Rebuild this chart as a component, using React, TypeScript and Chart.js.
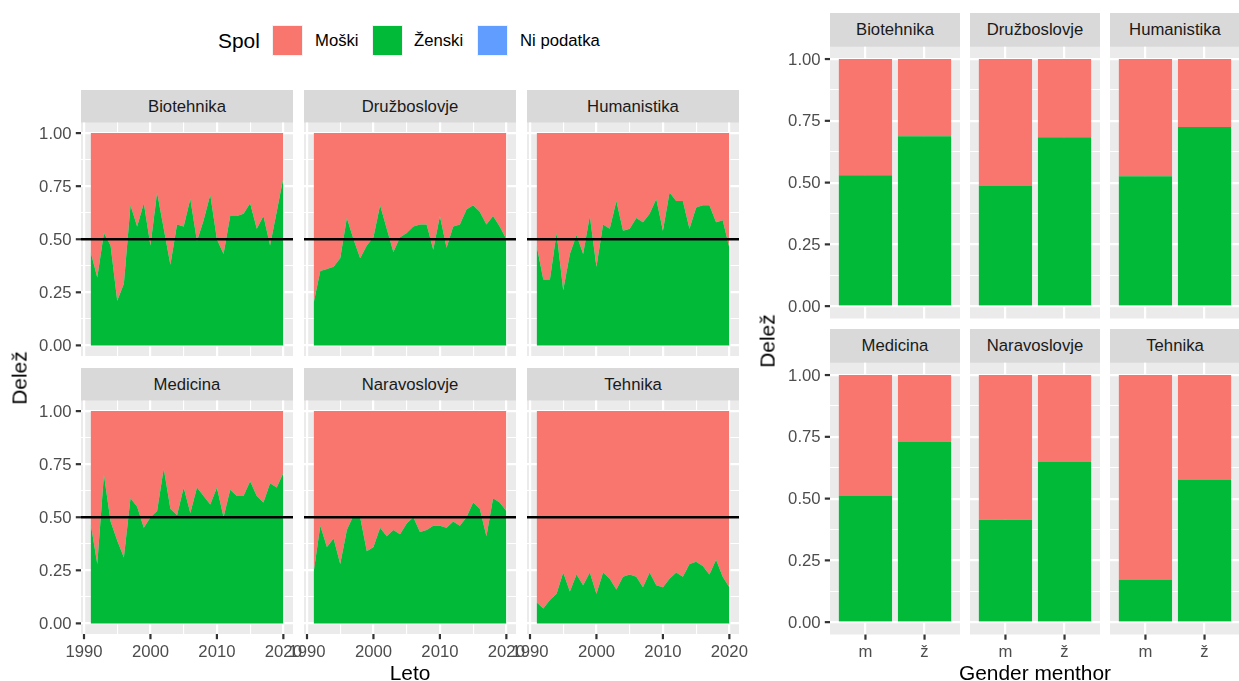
import React, { useEffect, useRef } from "react";
import Chart from "chart.js/auto";

// ---------- data ----------
const YEARS = [
  1991, 1992, 1993, 1994, 1995, 1996, 1997, 1998, 1999, 2000,
  2001, 2002, 2003, 2004, 2005, 2006, 2007, 2008, 2009, 2010,
  2011, 2012, 2013, 2014, 2015, 2016, 2017, 2018, 2019, 2020,
];

const FIELDS = ["Biotehnika", "Družboslovje", "Humanistika", "Medicina", "Naravoslovje", "Tehnika"];

// share of female graduates per year (Ženski); the rest up to 1 is Moški
const WOMEN_BIO = [0.44, 0.32, 0.53, 0.47, 0.21, 0.29, 0.66, 0.56, 0.67, 0.47, 0.72, 0.55, 0.38, 0.57, 0.56, 0.69, 0.49, 0.59, 0.71, 0.50, 0.43, 0.61, 0.61, 0.62, 0.67, 0.55, 0.61, 0.47, 0.63, 0.79];
const WOMEN_DRU = [0.20, 0.35, 0.36, 0.37, 0.41, 0.60, 0.50, 0.41, 0.47, 0.51, 0.66, 0.55, 0.44, 0.51, 0.53, 0.56, 0.57, 0.57, 0.45, 0.61, 0.46, 0.56, 0.57, 0.64, 0.66, 0.63, 0.57, 0.61, 0.56, 0.50];
const WOMEN_HUM = [0.47, 0.31, 0.31, 0.53, 0.26, 0.43, 0.52, 0.43, 0.61, 0.37, 0.57, 0.55, 0.68, 0.54, 0.55, 0.60, 0.58, 0.62, 0.69, 0.54, 0.72, 0.68, 0.68, 0.55, 0.65, 0.66, 0.66, 0.58, 0.59, 0.46];
const WOMEN_MED = [0.47, 0.28, 0.70, 0.48, 0.39, 0.31, 0.59, 0.55, 0.45, 0.50, 0.53, 0.73, 0.54, 0.51, 0.64, 0.52, 0.64, 0.60, 0.56, 0.64, 0.50, 0.63, 0.60, 0.60, 0.67, 0.60, 0.57, 0.66, 0.64, 0.71];
const WOMEN_NAR = [0.24, 0.46, 0.36, 0.40, 0.28, 0.44, 0.51, 0.50, 0.34, 0.36, 0.45, 0.41, 0.44, 0.42, 0.47, 0.50, 0.43, 0.44, 0.46, 0.46, 0.45, 0.48, 0.46, 0.50, 0.57, 0.54, 0.41, 0.59, 0.57, 0.53];
const WOMEN_TEH = [0.10, 0.07, 0.11, 0.14, 0.24, 0.15, 0.23, 0.18, 0.24, 0.14, 0.24, 0.21, 0.16, 0.22, 0.23, 0.22, 0.17, 0.24, 0.18, 0.17, 0.21, 0.24, 0.22, 0.28, 0.29, 0.27, 0.23, 0.30, 0.22, 0.17];
const WOMEN_BY_FIELD = [WOMEN_BIO, WOMEN_DRU, WOMEN_HUM, WOMEN_MED, WOMEN_NAR, WOMEN_TEH];

const REF_LEVEL = 0.5;

// shares by mentor gender, one value per field
const MENTORS = ["m", "ž"];
const MENTOR_M_NONE = [0.004, 0.004, 0.004, 0.004, 0.004, 0.004];
const MENTOR_M_WOMEN = [0.526, 0.482, 0.522, 0.507, 0.410, 0.167];
const MENTOR_M_MEN = [0.470, 0.514, 0.474, 0.489, 0.586, 0.829];
const MENTOR_Z_NONE = [0.004, 0.004, 0.004, 0.004, 0.004, 0.004];
const MENTOR_Z_WOMEN = [0.684, 0.680, 0.721, 0.725, 0.644, 0.571];
const MENTOR_Z_MEN = [0.312, 0.316, 0.275, 0.271, 0.352, 0.425];

// axis breaks
const Y_MAJOR = [0, 0.25, 0.5, 0.75, 1];
const Y_MINOR = [0.125, 0.375, 0.625, 0.875];
const Y_LABELS = ["0.00", "0.25", "0.50", "0.75", "1.00"];
const X_MAJOR = [1990, 2000, 2010, 2020];
const X_MINOR = [1995, 2005, 2015];
const X_LABELS = ["1990", "2000", "2010", "2020"];

const LEGEND_TITLE = "Spol";
const LEGEND_LABELS = ["Moški", "Ženski", "Ni podatka"];

// ---------- styling ----------
const FONT = '"Liberation Sans", Arial, Helvetica, sans-serif';
const PINK = "#F8766D";
const GREEN = "#00BA38";
const BLUE = "#619CFF";
const PANEL_BG = "#EBEBEB";
const STRIP_BG = "#D9D9D9";
const TICK_COLOR = "#333333";
const TICK_TEXT = "#4D4D4D";
const MAJOR_W = 2.2;
const MINOR_W = 1.1;
const TICK_LEN = 5.2;
const TICK_GAP = 4.2;
const SMALL = 16.7;
const LARGE = 20.9;

// x/y limits with ggplot-style 5% expansion
const Y_MIN = -0.05;
const Y_MAX = 1.05;
const YEAR_SPAN = YEARS[YEARS.length - 1] - YEARS[0];
const X_MIN = YEARS[0] - 0.05 * YEAR_SPAN;
const X_MAX = YEARS[YEARS.length - 1] + 0.05 * YEAR_SPAN;

const PAD_L = 80;
const PAD_R = 30;
const PAD_T = 2;
const PAD_B = 45;

type Box = { x: number; y: number; w: number; h: number };

const panelDecor = {
  id: "panelDecor",
  beforeDraw(chart: any) {
    const { ctx, chartArea: a } = chart;
    ctx.save();
    ctx.fillStyle = PANEL_BG;
    ctx.fillRect(a.left, a.top, a.right - a.left, a.bottom - a.top);
    ctx.restore();
  },
  afterDraw(chart: any, _args: any, opts: any) {
    const { ctx, chartArea: a } = chart;
    const xs = chart.scales.x;
    const ys = chart.scales.y;
    ctx.save();
    ctx.strokeStyle = TICK_COLOR;
    ctx.lineWidth = MAJOR_W;
    ctx.fillStyle = TICK_TEXT;
    ctx.font = `${SMALL}px ${FONT}`;
    if (opts.showY) {
      ctx.textAlign = "right";
      ctx.textBaseline = "middle";
      Y_MAJOR.forEach((v, i) => {
        const py = ys.getPixelForValue(v);
        ctx.beginPath();
        ctx.moveTo(a.left - TICK_LEN, py);
        ctx.lineTo(a.left, py);
        ctx.stroke();
        ctx.fillText(Y_LABELS[i], a.left - TICK_LEN - TICK_GAP, py + 1);
      });
    }
    if (opts.showX) {
      ctx.textAlign = "center";
      ctx.textBaseline = "middle";
      (opts.xTicks as number[]).forEach((v, i) => {
        const px = xs.getPixelForValue(v);
        ctx.beginPath();
        ctx.moveTo(px, a.bottom);
        ctx.lineTo(px, a.bottom + TICK_LEN);
        ctx.stroke();
        ctx.fillText(opts.xLabels[i], px, a.bottom + TICK_LEN + TICK_GAP + SMALL / 2 + 0.5);
      });
    }
    ctx.restore();
  },
};

function yScale() {
  const major = new Set(Y_MAJOR);
  return {
    type: "linear",
    min: Y_MIN,
    max: Y_MAX,
    stacked: true,
    offset: false,
    border: { display: false },
    ticks: { display: false },
    grid: {
      color: "#FFFFFF",
      drawTicks: false,
      offset: false,
      lineWidth: (c: any) => (major.has(c.tick && c.tick.value) ? MAJOR_W : MINOR_W),
    },
    afterBuildTicks: (s: any) => {
      s.ticks = [...Y_MAJOR, ...Y_MINOR].sort((p, q) => p - q).map((value) => ({ value }));
    },
  };
}

function xScale(min: number, max: number, majors: number[], minors: number[], stacked: boolean) {
  const major = new Set(majors);
  return {
    type: "linear",
    min,
    max,
    stacked,
    offset: false,
    border: { display: false },
    ticks: { display: false },
    grid: {
      color: "#FFFFFF",
      drawTicks: false,
      offset: false,
      lineWidth: (c: any) => (major.has(c.tick && c.tick.value) ? MAJOR_W : MINOR_W),
    },
    afterBuildTicks: (s: any) => {
      s.ticks = [...majors, ...minors].sort((p, q) => p - q).map((value) => ({ value }));
    },
  };
}

function useChart(ref: React.RefObject<HTMLCanvasElement>, build: () => any) {
  useEffect(() => {
    if (!ref.current) return;
    const chart = new Chart(ref.current, build());
    return () => chart.destroy();
  }, []);
}

function baseOptions(showX: boolean, showY: boolean, xTicks: number[], xLabels: string[], x: any) {
  return {
    animation: false,
    responsive: false,
    maintainAspectRatio: false,
    events: [],
    layout: { padding: { left: PAD_L, right: PAD_R, top: PAD_T, bottom: PAD_B } },
    plugins: {
      legend: { display: false },
      tooltip: { enabled: false },
      panelDecor: { showX, showY, xTicks, xLabels },
    },
    scales: { x, y: yScale() },
  };
}

function canvasStyle(b: Box) {
  const left = Math.floor(b.x - PAD_L);
  const top = Math.floor(b.y - PAD_T);
  const width = Math.round(b.w + PAD_L + PAD_R);
  const height = Math.round(b.h + PAD_T + PAD_B);
  return { left, top, width, height };
}

function paddingFor(b: Box) {
  const c = canvasStyle(b);
  return {
    left: b.x - c.left,
    top: b.y - c.top,
    right: c.width - (b.x - c.left) - b.w,
    bottom: c.height - (b.y - c.top) - b.h,
  };
}

function TrendPanel({ box, women, showX, showY }: { box: Box; women: number[]; showX: boolean; showY: boolean }) {
  const ref = useRef<HTMLCanvasElement>(null);
  const c = canvasStyle(box);
  useChart(ref, () => {
    const pts = YEARS.map((yr, i) => ({ x: yr, y: women[i] }));
    const opts: any = baseOptions(showX, showY, X_MAJOR, X_LABELS, xScale(X_MIN, X_MAX, X_MAJOR, X_MINOR, false));
    opts.layout.padding = paddingFor(box);
    opts.scales.y.stacked = false;
    return {
      type: "line",
      data: {
        datasets: [
          // reference line first so it is painted last, above the areas
          {
            label: "ref",
            data: [
              { x: X_MIN, y: REF_LEVEL },
              { x: X_MAX, y: REF_LEVEL },
            ],
            fill: false,
            borderColor: "#000000",
            borderWidth: 2.4,
            pointRadius: 0,
          },
          {
            label: "Ženski",
            data: pts,
            fill: "origin",
            backgroundColor: GREEN,
            borderColor: "rgba(0,0,0,0)",
            borderWidth: 0,
            pointRadius: 0,
            tension: 0,
          },
          {
            label: "Moški",
            data: pts,
            fill: { target: { value: 1 }, above: PINK, below: PINK },
            backgroundColor: PINK,
            borderColor: "rgba(0,0,0,0)",
            borderWidth: 0,
            pointRadius: 0,
            tension: 0,
          },
        ],
      },
      options: opts,
      plugins: [panelDecor],
    };
  });
  return (
    <canvas
      ref={ref}
      width={c.width}
      height={c.height}
      style={{ position: "absolute", left: c.left, top: c.top, width: c.width, height: c.height }}
    />
  );
}

function MentorPanel({ box, fieldIndex, showX, showY }: { box: Box; fieldIndex: number; showX: boolean; showY: boolean }) {
  const ref = useRef<HTMLCanvasElement>(null);
  const c = canvasStyle(box);
  useChart(ref, () => {
    const pos = MENTORS.map((_, i) => i + 1);
    const opts: any = baseOptions(showX, showY, pos, MENTORS, xScale(0.4, 2.6, pos, [], true));
    opts.layout.padding = paddingFor(box);
    const series = (vals: number[]) => vals.map((v, i) => ({ x: pos[i], y: v }));
    const common = { barPercentage: 0.9, categoryPercentage: 1, borderWidth: 0 };
    return {
      type: "bar",
      data: {
        datasets: [
          { label: "Ni podatka", data: series([MENTOR_M_NONE[fieldIndex], MENTOR_Z_NONE[fieldIndex]]), backgroundColor: BLUE, ...common },
          { label: "Ženski", data: series([MENTOR_M_WOMEN[fieldIndex], MENTOR_Z_WOMEN[fieldIndex]]), backgroundColor: GREEN, ...common },
          { label: "Moški", data: series([MENTOR_M_MEN[fieldIndex], MENTOR_Z_MEN[fieldIndex]]), backgroundColor: PINK, ...common },
        ],
      },
      options: opts,
      plugins: [panelDecor],
    };
  });
  return (
    <canvas
      ref={ref}
      width={c.width}
      height={c.height}
      style={{ position: "absolute", left: c.left, top: c.top, width: c.width, height: c.height }}
    />
  );
}

function Strip({ x, y, w, h, text }: { x: number; y: number; w: number; h: number; text: string }) {
  return (
    <div
      style={{
        position: "absolute",
        left: x,
        top: y,
        width: w,
        height: h,
        background: STRIP_BG,
        color: "#1A1A1A",
        font: `${SMALL}px ${FONT}`,
        lineHeight: `${h}px`,
        textAlign: "center",
        whiteSpace: "nowrap",
      }}
    >
      {text}
    </div>
  );
}

function Label({ cx, cy, text, size, rotate, color }: { cx: number; cy: number; text: string; size: number; rotate?: boolean; color?: string }) {
  return (
    <div
      style={{
        position: "absolute",
        left: cx,
        top: cy,
        transform: `translate(-50%, -50%)${rotate ? " rotate(-90deg)" : ""}`,
        font: `${size}px ${FONT}`,
        color: color || "#000000",
        whiteSpace: "nowrap",
        lineHeight: 1,
      }}
    >
      {text}
    </div>
  );
}

// facet geometry
const L_COLS = [81, 304, 527];
const L_W = 212;
const L_ROWS = [122.5, 400.5];
const L_H = 233.5;
const L_STRIP_H = 33;

const R_COLS = [830, 970, 1110];
const R_W = 130;
const R_ROWS = [46.7, 362.7];
const R_H = 271.8;
const R_STRIP_H = 33.4;

export default function App() {
  const legendColors = [PINK, GREEN, BLUE];
  const legendKeyX = [272, 372, 477];
  const legendTextX = [315, 414, 520];
  return (
    <div
      style={{
        position: "absolute",
        left: 0,
        top: 0,
        width: 1239,
        height: 681,
        background: "#FFFFFF",
        overflow: "hidden",
      }}
    >
      {/* legend */}
      <div style={{ position: "absolute", left: 218, top: 41, transform: "translateY(-50%)", font: `${LARGE}px ${FONT}`, lineHeight: 1 }}>
        {LEGEND_TITLE}
      </div>
      {LEGEND_LABELS.map((lab, i) => (
        <React.Fragment key={lab}>
          <div
            style={{
              position: "absolute",
              left: legendKeyX[i],
              top: 25,
              width: 31,
              height: 31,
              boxSizing: "border-box",
              background: legendColors[i],
              border: "1px solid #F2F2F2",
            }}
          />
          <div
            style={{
              position: "absolute",
              left: legendTextX[i],
              top: 41,
              transform: "translateY(-50%)",
              font: `${SMALL}px ${FONT}`,
              lineHeight: 1,
              whiteSpace: "nowrap",
            }}
          >
            {lab}
          </div>
        </React.Fragment>
      ))}

      {/* yearly trend facets */}
      {FIELDS.map((f, i) => {
        const col = i % 3;
        const row = Math.floor(i / 3);
        const box = { x: L_COLS[col], y: L_ROWS[row], w: L_W, h: L_H };
        return (
          <React.Fragment key={"t" + f}>
            <Strip x={box.x} y={box.y - L_STRIP_H} w={L_W} h={L_STRIP_H} text={f} />
            <TrendPanel box={box} women={WOMEN_BY_FIELD[i]} showX={row === 1} showY={col === 0} />
          </React.Fragment>
        );
      })}
      <Label cx={(L_COLS[0] + L_COLS[2] + L_W) / 2} cy={673} text="Leto" size={LARGE} />
      <Label cx={20} cy={(L_ROWS[0] + L_ROWS[1] + L_H) / 2} text="Delež" size={LARGE} rotate />

      {/* mentor gender facets */}
      {FIELDS.map((f, i) => {
        const col = i % 3;
        const row = Math.floor(i / 3);
        const box = { x: R_COLS[col], y: R_ROWS[row], w: R_W, h: R_H };
        return (
          <React.Fragment key={"m" + f}>
            <Strip x={box.x} y={box.y - R_STRIP_H} w={R_W} h={R_STRIP_H} text={f} />
            <MentorPanel box={box} fieldIndex={i} showX={row === 1} showY={col === 0} />
          </React.Fragment>
        );
      })}
      <Label cx={(R_COLS[0] + R_COLS[2] + R_W) / 2} cy={673} text="Gender menthor" size={LARGE} />
      <Label cx={768} cy={(R_ROWS[0] + R_ROWS[1] + R_H) / 2} text="Delež" size={LARGE} rotate />
    </div>
  );
}
